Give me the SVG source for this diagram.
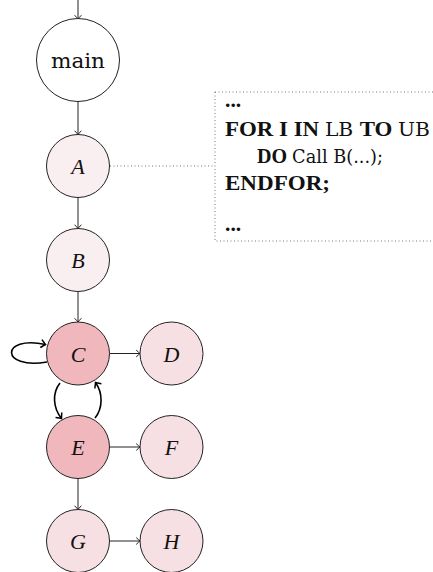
<svg xmlns="http://www.w3.org/2000/svg" width="433" height="572" viewBox="0 0 433 572">
<defs>
<marker id="to" markerWidth="10" markerHeight="10" viewBox="-5 -5 10 10" refX="0" refY="0" orient="auto" markerUnits="userSpaceOnUse">
<path d="M-3.8,-3.4 Q-0.8,-0.6 0,0 Q-0.8,0.6 -3.8,3.4" fill="none" stroke="#222" stroke-width="1"/>
</marker>
<marker id="toB" markerWidth="12" markerHeight="12" viewBox="-6 -6 12 12" refX="0" refY="0" orient="auto" markerUnits="userSpaceOnUse">
<path d="M-4.5,-4 Q-1,-0.8 0,0 Q-1,0.8 -4.5,4" fill="none" stroke="#000" stroke-width="1.5"/>
</marker>
</defs>
<style>
.n{stroke:#222;stroke-width:1}
.w{fill:#ffffff}
.l1{fill:#f9eff1}
.l2{fill:#f7e0e3}
.l3{fill:#f0b7bd}
.lab{font-family:"Liberation Serif","DejaVu Serif",serif;font-style:italic;font-size:22px;fill:#111;text-anchor:middle}
.mn{font-family:"DejaVu Serif",serif;font-size:21px;fill:#111;text-anchor:middle}
.e{fill:none;stroke:#222;stroke-width:1;marker-end:url(#to)}
.eb{fill:none;stroke:#000;stroke-width:1.6;marker-end:url(#toB)}
.code{font-family:"Liberation Serif","DejaVu Serif",serif;font-size:21.5px;fill:#111}
.r{font-family:"DejaVu Serif",serif;font-weight:normal;font-size:19px}
.b{font-weight:bold}
</style>
<g id="connectors">
<path class="e" d="M78,0 L78,19"/>
<path class="e" d="M78,101.5 L78,134.5"/>
<path class="e" d="M78,197.5 L78,228.5"/>
<path class="e" d="M78,291.5 L78,322"/>
<path class="e" d="M109.5,353.5 L140,353.5"/>
<path class="e" d="M109.5,447 L140,447"/>
<path class="e" d="M78,478.5 L78,509.5"/>
<path class="e" d="M109.5,541 L140,541"/>
<path class="eb" d="M47,362 C0,370 0,335 45.5,344.5"/>
<path class="eb" d="M60,383 C52,393 53,408 61.5,418.5"/>
<path class="eb" d="M95,418 C103,408 103,393 95.5,382.5"/>
<path d="M110,166 L215,166" fill="none" stroke="#777" stroke-width="1" stroke-dasharray="1,2.5"/>
</g>
<g id="main"><circle class="n w" cx="78" cy="60" r="41.5"/><text class="mn" x="78" y="68" textLength="54" lengthAdjust="spacingAndGlyphs">main</text></g>
<g id="A"><circle class="n l1" cx="78" cy="166" r="31.5"/><text class="lab" x="78" y="174">A</text></g>
<g id="B"><circle class="n l1" cx="78" cy="260" r="31.5"/><text class="lab" x="78" y="268">B</text></g>
<g id="C"><circle class="n l3" cx="78" cy="353.5" r="31.5"/><text class="lab" x="78" y="361.5">C</text></g>
<g id="D"><circle class="n l2" cx="171.5" cy="353.5" r="31.5"/><text class="lab" x="171.5" y="361.5">D</text></g>
<g id="E"><circle class="n l3" cx="78" cy="447" r="31.5"/><text class="lab" x="78" y="455">E</text></g>
<g id="F"><circle class="n l2" cx="171.5" cy="447" r="31.5"/><text class="lab" x="171.5" y="455">F</text></g>
<g id="G"><circle class="n l2" cx="78" cy="541" r="31.5"/><text class="lab" x="78" y="549">G</text></g>
<g id="H"><circle class="n l2" cx="171.5" cy="541" r="31.5"/><text class="lab" x="171.5" y="549">H</text></g>
<g id="code">
<rect x="215" y="92" width="240" height="149" fill="none" stroke="#777" stroke-width="1" stroke-dasharray="1,2.5"/>
<text class="code b" x="225" y="107">...</text>
<text class="code" x="225" y="135.5" textLength="205" lengthAdjust="spacingAndGlyphs"><tspan class="b">FOR I IN </tspan><tspan class="r">LB </tspan><tspan class="b">TO </tspan><tspan class="r">UB</tspan></text>
<text class="code" x="257" y="162.5" textLength="126" lengthAdjust="spacingAndGlyphs"><tspan class="b">DO </tspan><tspan class="r">Call B(...);</tspan></text>
<text class="code b" x="225" y="190" textLength="105" lengthAdjust="spacingAndGlyphs">ENDFOR;</text>
<text class="code b" x="225" y="231">...</text>
</g>
</svg>
